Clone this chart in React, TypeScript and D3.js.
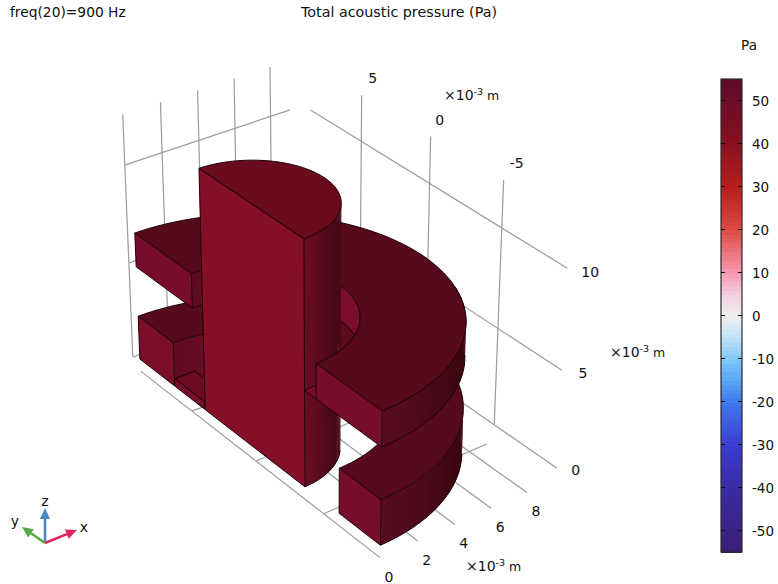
import React from "react";
import * as d3 from "d3";

// ---- tick labels and grid positions, in mm
const xTicks = [0, 2, 4, 6, 8];
const yTicks = [5, 0, -5];
const zTicks = [0, 5, 10];
const backWallX = [0.38, 2.38, 4.38, 6.38, 8.38];
const sideWallY = [6, 1, -4];
const barTicks = [50, 40, 30, 20, 10, 0, -10, -20, -30, -40, -50];
// ---- colour table: value, colour
const barValues = [-55, -50, -40, -30, -20, -15, -10, -5, 0, 5, 10, 20, 30, 40, 50, 55];
const barColors = ["#3d1f78", "#3b2285", "#3a2aa5", "#3b3cd2", "#3f78ee", "#58a6f5", "#7fc8f8", "#bfe2f5", "#efefef", "#f3cfe0", "#f79ab5", "#de4a44", "#b81e1c", "#8a1020", "#6b0c28", "#5e0a2a"];
// ---- geometry in mm
const planeX = 0.55, axisY = 0.93;
const wallX = 10.25, wallY = 10.47;
const columnR = 3.82, columnTop = 12.2;
const outerR = 9.2;
const lowerInnerR = 6.3, lowerTop = 2.3;
const upperInnerR = 4.65, upperBottom = 4.9, upperTop = 6.65;
const plateDepth = 1.1, plateTop = 0.4, plateYmin = 4.8, plateYmax = 7.2;
const wallTopSide = 12.3, wallTopBack = 12.5;

// ---- perspective camera, from the vanishing points of the three axes
const ax = 0.004167, ay = 0.00558, az = -0.0043;
const O = [256, 461], Vx = [4716, -1364], Vy = [-2100, -1375], Vz = [322, 4900];
type P3 = [number, number, number];
type P2 = [number, number];
const proj = ([x, y, z]: P3): P2 => {
  const a = ax * x, b = ay * y, c = az * z;
  const w = 1 + a + b + c;
  return [(O[0] + a * Vx[0] + b * Vy[0] + c * Vz[0]) / w, (O[1] + a * Vx[1] + b * Vy[1] + c * Vz[1]) / w];
};
const line = d3.line<P2>().x(d => d[0]).y(d => d[1]);
const path3 = (pts: P3[], close = false) => (line(pts.map(proj)) || "") + (close ? "Z" : "");
const rad = (t: number) => (t * Math.PI) / 180;
const pt = (r: number, t: number, z: number): P3 => [planeX + r * Math.cos(rad(t)), axisY + r * Math.sin(rad(t)), z];
const arc = (r: number, t0: number, t1: number, z: number): P3[] => {
  const n = Math.max(2, Math.ceil(Math.abs(t1 - t0) / 3));
  return d3.range(n + 1).map(i => pt(r, t0 + ((t1 - t0) * i) / n, z));
};
const annulus = (ri: number, ro: number, t0: number, t1: number, z: number) =>
  path3([...arc(ro, t0, t1, z), ...arc(ri, t1, t0, z)], true);
const halfDisk = (r: number, z: number) => path3(arc(r, -90, 90, z), true);

type Facet = { d: string; fill: string };
const wall = (r: number, z0: number, z1: number, t0: number, t1: number, outward: boolean, color: (t: number) => string): Facet[] => {
  const out: Facet[] = [];
  const step = 2;
  for (let t = t0; t < t1; t += step) {
    const q: P3[] = [pt(r, t, z0), pt(r, t + step, z0), pt(r, t + step, z1), pt(r, t, z1)];
    const s = d3.polygonArea(q.map(proj));
    if (outward ? s > 0 : s < 0) {
      // each strip runs a little under the next one, so no seam shows
      const e = Math.min(t + step * 1.6, t1);
      const wide: P3[] = [pt(r, t, z0), pt(r, e, z0), pt(r, e, z1), pt(r, t, z1)];
      out.push({ d: path3(wide, true), fill: color(t + step / 2) });
    }
  }
  return out;
};
const outerShade = d3.scaleLinear<string>().domain([-90, -75, -52, -37]).range(["#5a0c22", "#4c091a", "#3b0610", "#470917"]).clamp(true);
const columnShade = d3.scaleLinear<string>().domain([-90, -78, -60, -37]).range(["#6b0c24", "#5e0b20", "#470817", "#4e0a1a"]).clamp(true);
const innerShade = d3.scaleLinear<string>().domain([90, 70, 45, -37]).range(["#5c0b21", "#6c0c27", "#7a0d2c", "#7c0d30"]).clamp(true);

const barScale = d3.scaleLinear().domain([-55, 55]).range([552, 79]);
const barColor = d3.scaleLinear<string>().domain(barValues).range(barColors);
const barSteps = d3.range(-55, 55, 1);

const font = "'DejaVu Sans', sans-serif";
const EDGE = "#1c0308";
const GRID = "#9b9b9b";

const Facets = ({ list }: { list: Facet[] }) => (
  <g>{list.map((f, i) => <path key={i} d={f.d} fill={f.fill} />)}</g>
);
const Face = ({ d, fill }: { d: string; fill: string }) => (
  <path d={d} fill={fill} stroke={EDGE} strokeWidth={1} strokeLinejoin="round" />
);
const Edge = ({ pts }: { pts: P3[] }) => <path d={path3(pts)} fill="none" stroke={EDGE} strokeWidth={1} />;
const GridLine = ({ a, b }: { a: P3; b: P3 }) => <path d={path3([a, b])} stroke={GRID} strokeWidth={1.2} fill="none" />;

const Label = ({ at, dx, dy, text, size = 14 }: { at: P3; dx: number; dy: number; text: string; size?: number }) => {
  const [u, v] = proj(at);
  return <text x={u + dx} y={v + dy} fontSize={size} textAnchor="middle" dominantBaseline="central" fill="#111">{text}</text>;
};
const Unit = ({ x, y }: { x: number; y: number }) => (
  <text x={x} y={y} fontSize={14} fill="#111">×10<tspan dy={-5} fontSize={9.5}>-3</tspan><tspan dy={5} fontSize={12.5}> m</tspan></text>
);
const Arrow = ({ from, to, color }: { from: P2; to: P2; color: string }) => {
  const dx = to[0] - from[0], dy = to[1] - from[1], l = Math.hypot(dx, dy);
  const ux = dx / l, uy = dy / l, nx = -uy, ny = ux;
  const head: P2 = [to[0] - ux * 11, to[1] - uy * 11];
  return (
    <g>
      <line x1={from[0]} y1={from[1]} x2={head[0]} y2={head[1]} stroke={color} strokeWidth={2.6} />
      <path d={(line([to, [head[0] + nx * 5, head[1] + ny * 5], [head[0] - nx * 5, head[1] - ny * 5]]) || "") + "Z"} fill={color} />
    </g>
  );
};

export default function App() {
  const keepFront = -20;
  return (
    <svg width={778} height={584} style={{ position: "absolute", left: 0, top: 0, background: "#fff", fontFamily: font }}>
      <text x={10} y={12} fontSize={13.8} dominantBaseline="central" fill="#111">freq(20)=900 Hz</text>
      <text x={399} y={12} fontSize={14.3} textAnchor="middle" dominantBaseline="central" fill="#111">Total acoustic pressure (Pa)</text>

      {/* grid */}
      {xTicks.map(x => <GridLine key={"fx" + x} a={[x, -8.96, 0]} b={[x, 9.2, 0]} />)}
      {yTicks.map(y => <GridLine key={"fy" + y} a={[0, y, 0]} b={[9, y, 0]} />)}
      {sideWallY.map(y => <GridLine key={"wv" + y} a={[wallX, y, 0]} b={[wallX, y, wallTopSide]} />)}
      {zTicks.map(z => <GridLine key={"wh" + z} a={[wallX, -8.3, z]} b={[wallX, 9.9, z]} />)}
      {backWallX.map(x => <GridLine key={"bv" + x} a={[x, wallY, 0]} b={[x, wallY, wallTopBack]} />)}
      {zTicks.map(z => <GridLine key={"bh" + z} a={[0.4, wallY, z]} b={[9.5, wallY, z]} />)}

      {/* lower ring */}
      <Facets list={wall(lowerInnerR, 0, lowerTop, 30, 90, false, innerShade)} />
      <Face d={path3([[planeX, plateYmin, plateTop], [planeX, plateYmax, plateTop], [planeX + plateDepth, plateYmax, plateTop], [planeX + plateDepth, plateYmin, plateTop]], true)} fill="#6c0b1f" />
      <Face d={path3([[planeX, plateYmin, 0], [planeX, plateYmax, 0], [planeX, plateYmax, plateTop], [planeX, plateYmin, plateTop]], true)} fill="#7a0d2b" />
      <Facets list={wall(outerR, 0, lowerTop, -90, 90, true, outerShade)} />
      <Edge pts={arc(outerR, -90, -40, 0)} />
      <Face d={annulus(lowerInnerR, outerR, -90, 90, lowerTop)} fill="#570a1e" />
      <Face d={path3([pt(lowerInnerR, -90, 0), pt(outerR, -90, 0), pt(outerR, -90, lowerTop), pt(lowerInnerR, -90, lowerTop)], true)} fill="#780d2b" />
      <Face d={path3([pt(lowerInnerR, 90, 0), pt(outerR, 90, 0), pt(outerR, 90, lowerTop), pt(lowerInnerR, 90, lowerTop)], true)} fill="#7d0e2a" />

      {/* upper ring, the part behind the column */}
      <Facets list={wall(upperInnerR, upperBottom, upperTop, -37, 90, false, innerShade)} />
      <Edge pts={arc(upperInnerR, -37, 90, upperBottom)} />
      <Face d={annulus(columnR, upperInnerR, -35, 40, upperBottom)} fill="#5c0a1d" />
      <Face d={annulus(upperInnerR, outerR, -90, 90, upperTop)} fill="#560a1c" />
      <Face d={path3([pt(upperInnerR, 90, upperBottom), pt(outerR, 90, upperBottom), pt(outerR, 90, upperTop), pt(upperInnerR, 90, upperTop)], true)} fill="#780d2b" />

      {/* column */}
      <Facets list={wall(columnR, 0, columnTop, -90, 90, true, columnShade)} />
      <Edge pts={arc(columnR, -90, -40, 0)} />
      <Face d={path3([pt(columnR, 90, 0), pt(columnR, -90, 0), pt(columnR, -90, columnTop), pt(columnR, 90, columnTop)], true)} fill="#860f28" />
      <Face d={halfDisk(columnR, columnTop)} fill="#6a0b1c" />

      {/* upper ring, the part in front of the column */}
      <Face d={annulus(columnR, upperInnerR, -90, -35, upperBottom)} fill="#7a0d2d" />
      <Facets list={wall(outerR, upperBottom, upperTop, -90, 90, true, outerShade)} />
      <Edge pts={arc(outerR, -90, -38, upperBottom)} />
      <path d={annulus(upperInnerR, outerR, -90, keepFront, upperTop)} fill="#560a1c" />
      <Edge pts={arc(upperInnerR, -90, keepFront, upperTop)} />
      <Edge pts={arc(outerR, -90, keepFront, upperTop)} />
      <Face d={path3([pt(upperInnerR, -90, upperBottom), pt(outerR, -90, upperBottom), pt(outerR, -90, upperTop), pt(upperInnerR, -90, upperTop)], true)} fill="#780d2b" />

      {/* axis labels */}
      {xTicks.map(x => <Label key={"lx" + x} at={[x, -8.96, 0]} dx={9} dy={19} text={String(x)} />)}
      {yTicks.map((y, i) => <Label key={"ly" + y} at={[wallX, sideWallY[i], wallTopSide]} dx={y === 0 ? 9 : y > 0 ? 11 : 13} dy={-17} text={String(y)} />)}
      {zTicks.map(z => <Label key={"lz" + z} at={[wallX, -8.3, z]} dx={19 + z * 0.4} dy={2 + z * 0.2} text={String(z)} />)}
      <Unit x={444} y={100} />
      <Unit x={610} y={357} />
      <Unit x={466} y={571} />

      {/* colour bar */}
      <text x={749} y={45} fontSize={13.5} textAnchor="middle" dominantBaseline="central" fill="#111">Pa</text>
      <g shapeRendering="crispEdges">
        {barSteps.map(v => (
          <rect key={v} x={721} y={barScale(v + 1)} width={21} height={barScale(v) - barScale(v + 1) + 1} fill={barColor(v + 0.5)} />
        ))}
      </g>
      <rect x={721} y={79} width={21} height={473} fill="none" stroke="#2a2a2a" strokeWidth={1.2} />
      {barTicks.map(t => (
        <g key={t}>
          <line x1={721} x2={725} y1={barScale(t)} y2={barScale(t)} stroke="#111" />
          <line x1={738} x2={742} y1={barScale(t)} y2={barScale(t)} stroke="#111" />
          <text x={752} y={barScale(t)} fontSize={13.5} dominantBaseline="central" fill="#111">{t}</text>
        </g>
      ))}

      {/* triad */}
      <Arrow from={[45, 543]} to={[45, 508]} color="#4a86c5" />
      <Arrow from={[45, 543]} to={[22, 527]} color="#55a845" />
      <Arrow from={[45, 543]} to={[77, 530]} color="#e0245e" />
      <text x={45} y={501} fontSize={14} textAnchor="middle" dominantBaseline="central" fill="#111">z</text>
      <text x={15} y={521} fontSize={14} textAnchor="middle" dominantBaseline="central" fill="#111">y</text>
      <text x={84} y={527} fontSize={14} textAnchor="middle" dominantBaseline="central" fill="#111">x</text>
    </svg>
  );
}
